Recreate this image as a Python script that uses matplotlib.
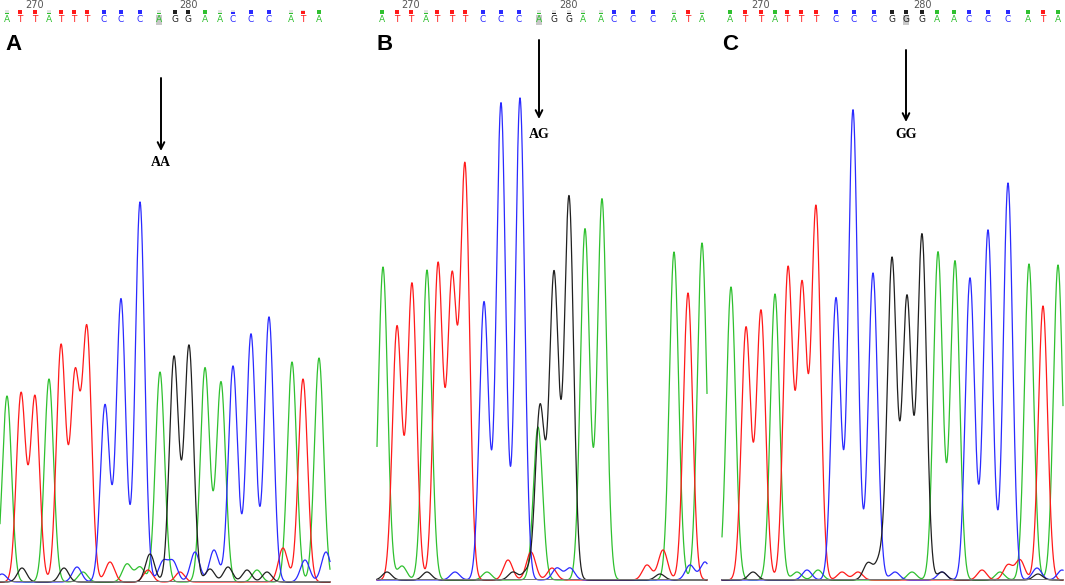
import numpy as np
import matplotlib
matplotlib.use("Agg")
import matplotlib.pyplot as plt

# ---- data (scan position, peak height) ----
seq_A = "ATTATTTCCCAGGAACCCATA"
seq_B = "ATTATTTCCCAGGAACCCATA"
seq_C = "ATTATTTCCCGGGAACCCATA"

base_pos_A = [7, 20, 35, 49, 61, 74, 87, 104, 121, 140, 159, 175, 188, 205, 220, 233, 251, 269, 291, 303, 319]
base_pos_B = [382, 397, 411, 426, 437, 452, 465, 483, 501, 519, 539, 554, 569, 583, 601, 614, 633, 653, 674, 688, 702]
base_pos_C = [730, 745, 761, 775, 787, 801, 816, 836, 854, 874, 892, 906, 922, 937, 954, 969, 988, 1008, 1028, 1043, 1058]

qual_A = [0.3, 1, 1, 0.3, 1, 1, 1, 1, 1, 1, 0.3, 1, 1, 1, 0.3, 0.5, 1, 1, 0.3, 0.8, 1]
qual_B = [1, 1, 1, 0.3, 1, 1, 1, 1, 1, 1, 0.2, 0.3, 0.3, 0.3, 0.3, 1, 1, 1, 0.3, 1, 0.3]
qual_C = [1] * 21

# peaks per dye: (position, height)
peaks_A = {
    "A": [(7, 186), (49, 203), (160, 210), (205, 214), (221, 200), (292, 220), (319, 224),
          (83, 10), (127, 18), (140, 15), (257, 12)],
    "T": [(21, 188), (35, 185), (61, 236), (75, 203), (87, 250), (303, 203),
          (110, 20), (148, 12), (180, 10), (283, 34)],
    "C": [(105, 177), (121, 283), (140, 380), (233, 216), (251, 248), (269, 265),
          (2, 8), (77, 15), (163, 20), (173, 20), (195, 30), (214, 32), (305, 22), (326, 30)],
    "G": [(174, 225), (189, 236), (22, 14), (64, 14), (150, 28), (210, 13), (228, 15), (247, 12), (267, 10)],
}
peaks_B = {
    "A": [(383, 313), (427, 310), (538, 153), (585, 351), (602, 381), (674, 328), (702, 337),
          (402, 14), (487, 8)],
    "T": [(397, 253), (412, 296), (438, 315), (452, 298), (465, 412), (688, 287),
          (508, 20), (531, 28), (552, 12), (647, 15), (663, 30)],
    "C": [(484, 278), (501, 477), (520, 482), (455, 8), (557, 12), (570, 12), (690, 15), (705, 18)],
    "G": [(540, 173), (554, 306), (569, 383), (387, 8), (427, 8), (513, 8), (527, 9), (660, 6)],
}
peaks_C = {
    "A": [(731, 293), (775, 286), (938, 328), (955, 319), (1029, 316), (1058, 315),
          (797, 8), (818, 10), (912, 8), (1000, 8)],
    "T": [(746, 252), (761, 269), (788, 311), (802, 293), (816, 372), (1043, 274),
          (842, 8), (858, 8), (982, 10), (1008, 15), (1020, 20)],
    "C": [(836, 282), (853, 470), (873, 307), (970, 302), (988, 350), (1008, 397),
          (807, 10), (895, 8), (942, 8), (1037, 12), (1062, 10)],
    "G": [(892, 321), (907, 282), (922, 345), (753, 8), (868, 17), (880, 20), (942, 8), (1038, 6)],
}

calls = ["AA", "AG", "GG"]
labels = ["A", "B", "C"]

# ---- styling / layout ----
W, H = 1065, 585
dye_colors = {"A": "#2fc02f", "T": "#ff1a1a", "C": "#2a2aff", "G": "#202020"}
sigma = 4.6

fig = plt.figure(figsize=(W / 100, H / 100), dpi=100)


def px_axes(x0, x1, y_top, y_bot):
    ax = fig.add_axes([x0 / W, (H - y_bot) / H, (x1 - x0) / W, (y_bot - y_top) / H])
    ax.set_axis_off()
    return ax


panels = [
    # x range, baseline row, arrow top row, arrow tip row, call row
    dict(seq=seq_A, pos=base_pos_A, qual=qual_A, peaks=peaks_A, xr=(0, 330), base=582,
         arrow=(78, 151), call_y=162, snp=10),
    dict(seq=seq_B, pos=base_pos_B, qual=qual_B, peaks=peaks_B, xr=(377, 707), base=580,
         arrow=(40, 119), call_y=134, snp=10),
    dict(seq=seq_C, pos=base_pos_C, qual=qual_C, peaks=peaks_C, xr=(722, 1063), base=580,
         arrow=(50, 122), call_y=134, snp=11),
]

for k, p in enumerate(panels):
    x0, x1 = p["xr"]
    top = 30
    ax = px_axes(x0, x1, top, p["base"])
    ax.set_xlim(x0, x1)
    ax.set_ylim(0, p["base"] - top)

    x = np.linspace(x0, x1, 3000)
    for dye in ["A", "T", "C", "G"]:
        y = np.zeros_like(x)
        for c, h in p["peaks"][dye]:
            y += h * np.exp(-(x - c) ** 2 / (2 * sigma ** 2))
        ax.plot(x, y, color=dye_colors[dye], lw=0.9, clip_on=False)
    ax.axhline(0, color="#777777", lw=1.4)

    # arrow + genotype call
    snp_x = p["pos"][p["snp"]] + (2 if k == 0 else 0)
    a_top, a_tip = p["arrow"]
    ax.annotate("", xy=(snp_x, p["base"] - a_tip), xytext=(snp_x, p["base"] - a_top),
                arrowprops=dict(arrowstyle="->", color="black", lw=1.4,
                                mutation_scale=12, shrinkA=0, shrinkB=0))
    ax.text(snp_x, p["base"] - p["call_y"], calls[k], ha="center", va="center",
            fontsize=10, fontweight="bold", family="Liberation Serif")

    # base-call strip
    sx = fig.add_axes([x0 / W, (H - 28) / H, (x1 - x0) / W, 28 / H])
    sx.set_axis_off()
    sx.set_xlim(x0, x1)
    sx.set_ylim(0, 28)
    for i, (b, bx, q) in enumerate(zip(p["seq"], p["pos"], p["qual"])):
        col = dye_colors[b]
        sx.bar(bx, 4, bottom=14, width=4.5, color="#e4e4e4", lw=0)
        sx.bar(bx, 4 * q, bottom=14, width=4.5, color=col, lw=0)
        if i == p["snp"]:
            sx.bar(bx, 10, bottom=3, width=5.5, color="#c8c8c8", lw=0)
        sx.text(bx, 8.5, b, ha="center", va="center", fontsize=6.5, color=col,
                family="DejaVu Sans")
    for idx, num in [(2, "270"), (12, "280")]:
        sx.text(p["pos"][idx], 23, num, ha="center", va="center", fontsize=7,
                color="#555555")

    fig.text((x0 + (13 if k == 0 else 8)) / W, 1 - 45 / H, labels[k], ha="center",
             va="center", fontsize=16, fontweight="bold", family="Liberation Sans")

fig.savefig("out.png", dpi=100, facecolor="white")
